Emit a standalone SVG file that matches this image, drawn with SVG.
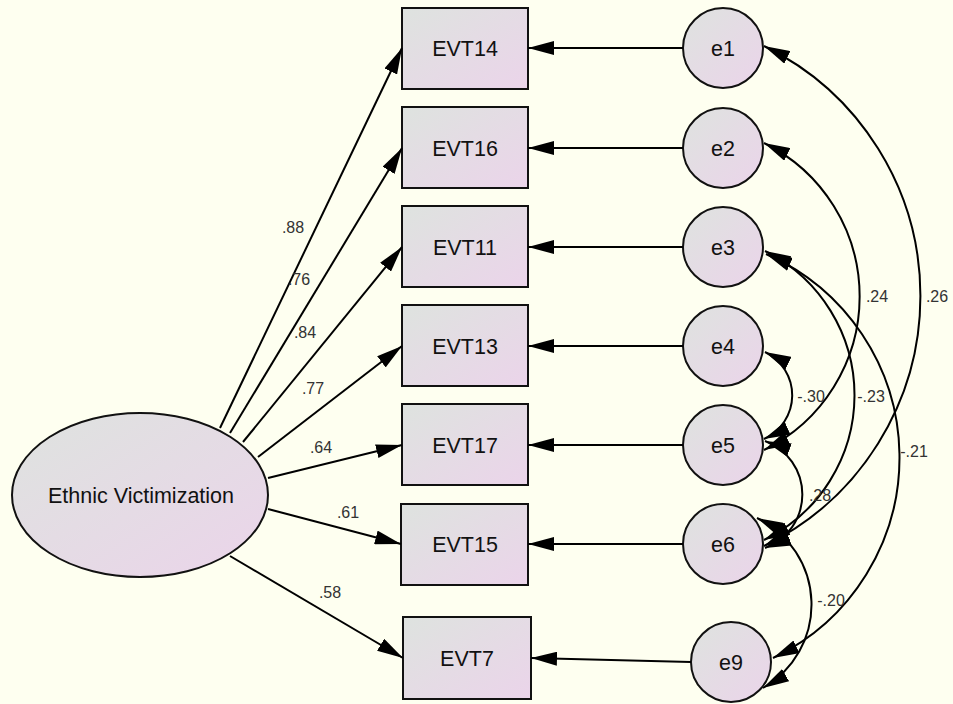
<svg xmlns="http://www.w3.org/2000/svg" width="953" height="704" viewBox="0 0 953 704">
  <defs>
    <linearGradient id="nodeFill" x1="0" y1="0" x2="1" y2="1">
      <stop offset="0" stop-color="#DEE3DF"/>
      <stop offset="1" stop-color="#EBD4EA"/>
    </linearGradient>
    <marker id="head" viewBox="0 0 26 14" refX="26" refY="7" markerWidth="26" markerHeight="14" markerUnits="userSpaceOnUse" orient="auto-start-reverse">
      <path d="M0,0 L26,7 L0,14 Z" fill="#000"/>
    </marker>
  </defs>
  <style>
    .box, .err, .latent { fill: url(#nodeFill); stroke: #111; stroke-width: 2; }
    .name { font-family: "Liberation Sans", Arial, sans-serif; font-size: 21.5px; fill: #111; text-anchor: middle; }
    .path { fill: none; stroke: #000; stroke-width: 2; marker-end: url(#head); }
    .cov { fill: none; stroke: #000; stroke-width: 2; marker-start: url(#head); marker-end: url(#head); }
    .est { font-family: "Liberation Sans", Arial, sans-serif; font-size: 16px; fill: #333; text-anchor: middle; }
  </style>

  <rect width="953" height="704" fill="#FEFFF0"/>

  <!-- latent factor -->
  <g id="ethnic-victimization">
    <ellipse class="latent" cx="140" cy="495" rx="128" ry="82"/>
    <text class="name" x="141" y="503">Ethnic Victimization</text>
  </g>

  <!-- observed indicators -->
  <g id="EVT14"><rect class="box" x="402" y="8" width="126" height="81"/><text class="name" x="465" y="56">EVT14</text></g>
  <g id="EVT16"><rect class="box" x="402" y="107" width="126" height="81"/><text class="name" x="465" y="156">EVT16</text></g>
  <g id="EVT11"><rect class="box" x="402" y="206" width="126" height="81"/><text class="name" x="465" y="255">EVT11</text></g>
  <g id="EVT13"><rect class="box" x="402" y="305" width="126" height="81"/><text class="name" x="465" y="354">EVT13</text></g>
  <g id="EVT17"><rect class="box" x="402" y="404" width="126" height="81"/><text class="name" x="465" y="453">EVT17</text></g>
  <g id="EVT15"><rect class="box" x="401" y="504" width="127" height="81"/><text class="name" x="465" y="552">EVT15</text></g>
  <g id="EVT7"><rect class="box" x="403" y="617" width="128" height="82"/><text class="name" x="467" y="666">EVT7</text></g>

  <!-- error terms -->
  <g id="e1"><circle class="err" cx="723" cy="48" r="40"/><text class="name" x="723" y="56">e1</text></g>
  <g id="e2"><circle class="err" cx="723" cy="148" r="40"/><text class="name" x="723" y="156">e2</text></g>
  <g id="e3"><circle class="err" cx="723" cy="247" r="40"/><text class="name" x="723" y="255">e3</text></g>
  <g id="e4"><circle class="err" cx="723" cy="346" r="40"/><text class="name" x="723" y="354">e4</text></g>
  <g id="e5"><circle class="err" cx="723" cy="445" r="40"/><text class="name" x="723" y="453">e5</text></g>
  <g id="e6"><circle class="err" cx="723" cy="544" r="40"/><text class="name" x="723" y="552">e6</text></g>
  <g id="e9"><circle class="err" cx="731" cy="662" r="40"/><text class="name" x="731" y="670">e9</text></g>

  <g id="connectors">
    <!-- factor loadings -->
    <path class="path" d="M220,428 L402,48"/>
    <path class="path" d="M230,433 L402,148"/>
    <path class="path" d="M243,442 L402,247"/>
    <path class="path" d="M258,457 L402,346"/>
    <path class="path" d="M268,478 L402,445"/>
    <path class="path" d="M268,509 L401,544"/>
    <path class="path" d="M230,556 L403,658"/>

    <!-- error paths -->
    <path class="path" d="M683,48 L528,48"/>
    <path class="path" d="M683,148 L528,148"/>
    <path class="path" d="M683,247 L528,247"/>
    <path class="path" d="M683,346 L528,346"/>
    <path class="path" d="M683,445 L528,445"/>
    <path class="path" d="M683,544 L528,544"/>
    <path class="path" d="M691,662 L531,658"/>

    <!-- error covariances -->
    <path class="cov" d="M764,46 A278,278 0 0 1 764,546"/>
    <path class="cov" d="M764,143 A171,171 0 0 1 764,450"/>
    <path class="cov" d="M765,251 A161,161 0 0 1 764,540"/>
    <path class="cov" d="M766,254 A222,222 0 0 1 773,658"/>
    <path class="cov" d="M765,352 A48,48 0 0 1 764,439"/>
    <path class="cov" d="M765,441 A57,57 0 0 1 765,548"/>
    <path class="cov" d="M757,518 A96,96 0 0 1 763,688"/>
  </g>

  <g id="estimates">
    <text class="est" x="293" y="233">.88</text>
    <text class="est" x="299" y="285">.76</text>
    <text class="est" x="305" y="338">.84</text>
    <text class="est" x="313" y="394">.77</text>
    <text class="est" x="321" y="453">.64</text>
    <text class="est" x="348" y="518">.61</text>
    <text class="est" x="330" y="598">.58</text>
    <text class="est" x="937" y="302">.26</text>
    <text class="est" x="877" y="302">.24</text>
    <text class="est" x="871" y="402">-.23</text>
    <text class="est" x="914" y="457">-.21</text>
    <text class="est" x="811" y="402">-.30</text>
    <text class="est" x="820" y="501">.28</text>
    <text class="est" x="831" y="606">-.20</text>
  </g>
</svg>
